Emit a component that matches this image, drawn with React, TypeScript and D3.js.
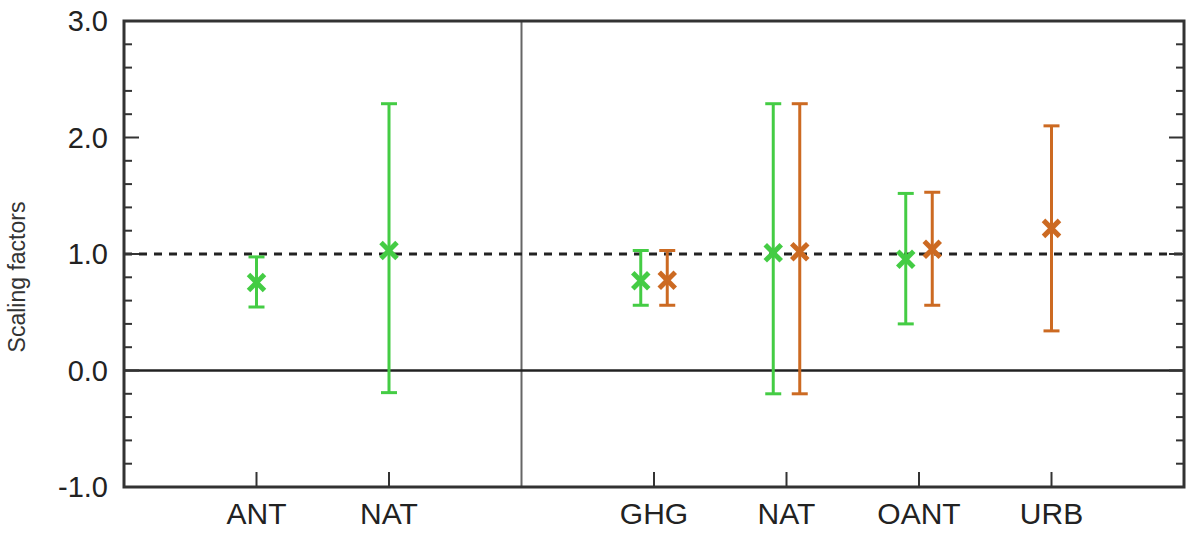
import React from "react";
import * as d3 from "d3";

const tickLabels = ["ANT", "NAT", "GHG", "NAT", "OANT", "URB"];
const tickPositions = [1, 2, 4, 5, 6, 7];
const dividerPosition = 3;

const greenBest = [0.755, 1.03, 0.77, 1.01, 0.955, null];
const greenLow = [0.545, -0.19, 0.56, -0.2, 0.4, null];
const greenHigh = [0.975, 2.29, 1.03, 2.29, 1.52, null];

const orangeBest = [null, null, 0.775, 1.02, 1.04, 1.22];
const orangeLow = [null, null, 0.56, -0.2, 0.56, 0.34];
const orangeHigh = [null, null, 1.03, 2.29, 1.53, 2.1];

const yTicks = [-1, 0, 1, 2, 3];
const yMinorTicks = d3.range(-1, 3.0001, 0.2);
const referenceValue = 1.0;

const W = 1187;
const H = 536;
const M = { left: 124, right: 1184, top: 21, bottom: 487 };

const GREEN = "#44cc44";
const ORANGE = "#cc6a22";
const FONT = "'Liberation Sans', Arial, Helvetica, sans-serif";

export default function App() {
  const x = d3.scaleLinear().domain([0, 8]).range([M.left, M.right]);
  const y = d3.scaleLinear().domain([-1, 3]).range([M.bottom, M.top]);
  const fmt = (v: number) => d3.format(".1f")(v).replace("\u2212", "-");

  const series = [
    { color: GREEN, best: greenBest, low: greenLow, high: greenHigh, side: -1 },
    { color: ORANGE, best: orangeBest, low: orangeLow, high: orangeHigh, side: 1 },
  ];

  const marks: React.ReactNode[] = [];
  series.forEach((s, si) => {
    s.best.forEach((b, i) => {
      if (b == null) return;
      const both = greenBest[i] != null && orangeBest[i] != null;
      const cx = x(tickPositions[i] + (both ? s.side * 0.1 : 0));
      const cy = y(b);
      const yl = y(s.low[i] as number);
      const yh = y(s.high[i] as number);
      const cap = 8;
      const mk = 8;
      marks.push(
        <g key={`${si}-${i}`} stroke={s.color} fill="none">
          <line x1={cx} x2={cx} y1={yl} y2={yh} strokeWidth={3} />
          <line x1={cx - cap} x2={cx + cap} y1={yl} y2={yl} strokeWidth={3} />
          <line x1={cx - cap} x2={cx + cap} y1={yh} y2={yh} strokeWidth={3} />
          <line x1={cx - mk} x2={cx + mk} y1={cy - mk} y2={cy + mk} strokeWidth={5} />
          <line x1={cx - mk} x2={cx + mk} y1={cy + mk} y2={cy - mk} strokeWidth={5} />
        </g>
      );
    });
  });

  return (
    <svg width={W} height={H} style={{ position: "absolute", left: 0, top: 0, background: "#fff" }}>
      <line x1={x(dividerPosition)} x2={x(dividerPosition)} y1={M.top} y2={M.bottom} stroke="#666" strokeWidth={2} />
      <line x1={M.left} x2={M.right} y1={y(0)} y2={y(0)} stroke="#222" strokeWidth={2.5} />
      <line x1={M.left} x2={M.right} y1={y(referenceValue)} y2={y(referenceValue)} stroke="#222" strokeWidth={3} strokeDasharray="8,7" />

      {marks}

      {yMinorTicks.map((t, i) => {
        const major = Math.abs(t - Math.round(t)) < 1e-6;
        const len = major ? 15 : 8;
        return (
          <g key={`yt${i}`} stroke="#333" strokeWidth={2}>
            <line x1={M.left} x2={M.left + len} y1={y(t)} y2={y(t)} />
            <line x1={M.right} x2={M.right - len} y1={y(t)} y2={y(t)} />
          </g>
        );
      })}
      {yTicks.map((t) => (
        <text key={`yl${t}`} x={M.left - 16} y={y(t) + 10} textAnchor="end" fontFamily={FONT} fontSize={29} fill="#222">
          {fmt(t)}
        </text>
      ))}

      {tickPositions.map((p, i) => (
        <g key={`xt${i}`}>
          <line x1={x(p)} x2={x(p)} y1={M.bottom} y2={M.bottom - 15} stroke="#333" strokeWidth={2} />
          <text x={x(p)} y={524} textAnchor="middle" fontFamily={FONT} fontSize={30} fill="#222">
            {tickLabels[i]}
          </text>
        </g>
      ))}

      <rect x={M.left} y={M.top} width={M.right - M.left} height={M.bottom - M.top} fill="none" stroke="#333" strokeWidth={3} />

      <text transform={`translate(25, 277) rotate(-90)`} textAnchor="middle" fontFamily={FONT} fontSize={23} fill="#333">
        Scaling factors
      </text>
    </svg>
  );
}
